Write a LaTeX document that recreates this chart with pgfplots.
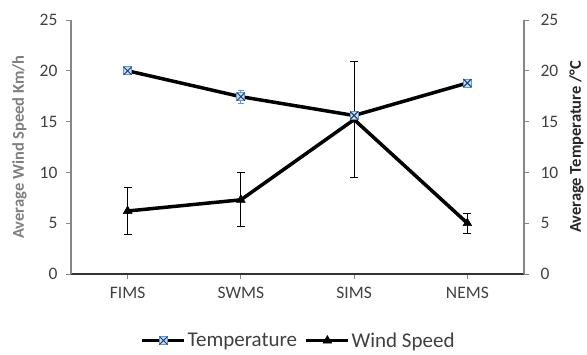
\documentclass[border=0pt]{standalone}
\usepackage{fontspec}
\setmainfont{Carlito}
\usepackage{pgfplots}
\pgfplotsset{compat=1.18}
\definecolor{axgray}{HTML}{868686}
\definecolor{ticktext}{HTML}{404040}
\definecolor{leftlab}{HTML}{7F7F7F}
\definecolor{rightlab}{HTML}{262626}
\definecolor{tblue}{HTML}{5B9BD5}
\definecolor{tdark}{HTML}{1F3864}

\pgfdeclareplotmark{boxx}{%
  \pgfsetlinewidth{0.9pt}%
  \pgfsetfillcolor{tblue!35}%
  \pgfsetstrokecolor{tblue}%
  \pgfpathrectangle{\pgfpoint{-\pgfplotmarksize}{-\pgfplotmarksize}}{\pgfpoint{2\pgfplotmarksize}{2\pgfplotmarksize}}%
  \pgfusepathqfillstroke
  \pgfsetstrokecolor{tdark}%
  \pgfpathmoveto{\pgfpoint{-\pgfplotmarksize}{-\pgfplotmarksize}}%
  \pgfpathlineto{\pgfpoint{\pgfplotmarksize}{\pgfplotmarksize}}%
  \pgfpathmoveto{\pgfpoint{-\pgfplotmarksize}{\pgfplotmarksize}}%
  \pgfpathlineto{\pgfpoint{\pgfplotmarksize}{-\pgfplotmarksize}}%
  \pgfusepathqstroke
}

\pgfplotsset{
  common/.style={
    scale only axis, width=453pt, height=254pt,
    at={(71pt,80pt)}, anchor=south west,
    xmin=-0.5, xmax=3.5, ymin=0, ymax=25,
    ytick={0,5,...,25},
    /pgf/number format/assume math mode=true,
    ticklabel style={font=\fontsize{17.5}{19}\selectfont, color=ticktext},
    tick style={color=axgray, line width=1pt},
    major tick length=5pt,
    tick align=outside,
    axis line style={color=axgray, line width=1.2pt},
    label style={font=\bfseries\fontsize{16.5}{18}\selectfont},
  },
  windstyle/.style={black, line width=3.5pt, mark=triangle*, mark size=5pt,
    mark options={solid, line width=0.5pt, fill=black}},
  tempstyle/.style={black, line width=3.5pt, mark=boxx, mark size=4pt},
}

\begin{document}
\begin{tikzpicture}
\useasboundingbox (0,0) rectangle (587pt,354pt);
\begin{axis}[common,
  axis x line*=bottom, axis y line*=left,
  x axis line style={color=black!80},
  xtick={0,1,2,3}, xticklabels={FIMS,SWMS,SIMS,NEMS},
  xticklabel style={yshift=-5pt},
  yticklabel style={xshift=-5pt},
  ylabel={Average Wind Speed Km/h},
  ylabel style={color=leftlab, at={(axis description cs:-0.1137,0.5)}, anchor=center},
]
\addplot[windstyle,
  error bars/.cd, y dir=both, y explicit,
  error bar style={line width=0.9pt, black, solid},
  error mark options={rotate=90, mark size=4pt, line width=0.9pt, black},
] coordinates {
  (0,6.2) +- (0,2.35)
  (1,7.3) +- (0,2.65)
  (2,15.2) +- (0,5.7)
  (3,5.0) +- (0,1.0)
};
\end{axis}
\begin{axis}[common,
  axis x line=none, axis y line*=right,
  yticklabel style={xshift=8pt},
  ylabel={Average Temperature /°C},
  ylabel style={color=rightlab, at={(axis description cs:1.1159,0.5)}, anchor=center},
  legend columns=2,
  legend style={draw=none, fill=none, at={(0.502,-0.262)}, anchor=center,
    font=\fontsize{21}{23}\selectfont, text=ticktext,
    nodes={inner xsep=1.5pt, inner ysep=1pt},
    /tikz/every even column/.append style={column sep=6pt},
    /tikz/every odd column/.append style={column sep=0pt}},
  legend image code/.code={
    \draw[mark repeat=2, mark phase=2, #1] plot coordinates {(0pt,0pt) (21pt,0pt) (42pt,0pt)};
  },
]
\addplot[tempstyle,
  error bars/.cd, y dir=both, y explicit,
  error bar style={line width=0.9pt, tblue, solid},
  error mark options={rotate=90, mark size=3pt, line width=0.9pt, tblue},
] coordinates {
  (0,20.0) +- (0,0.15)
  (1,17.45) +- (0,0.66)
  (2,15.6) +- (0,0.35)
  (3,18.8) +- (0,0.15)
};
\addlegendentry{Temperature}
\addlegendimage{windstyle}
\addlegendentry{Wind Speed}
\end{axis}
\end{tikzpicture}
\end{document}
